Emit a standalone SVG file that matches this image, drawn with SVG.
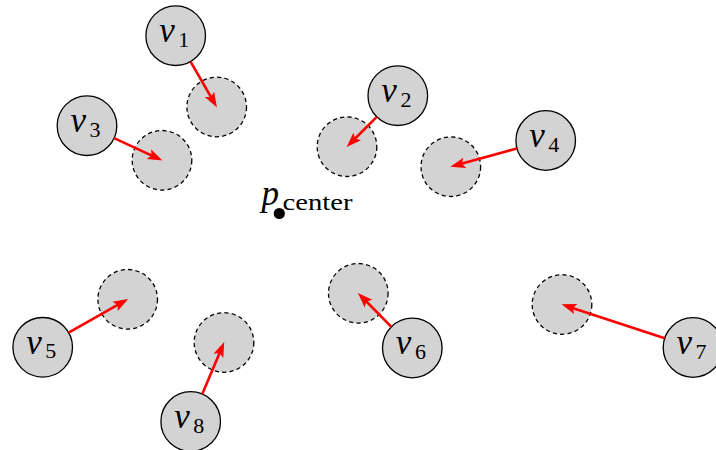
<svg xmlns="http://www.w3.org/2000/svg" width="716" height="450" viewBox="0 0 716 450">
  <style>
    .node { fill: #d3d3d3; stroke: #000; stroke-width: 1.3; }
    .ghost { fill: #d3d3d3; stroke: #000; stroke-width: 1.3; stroke-dasharray: 4.2 3.2; }
    text { font-family: "Liberation Serif", "Times New Roman", serif; fill: #000; }
    .lbl { font-size: 35px; }
    .v { font-style: italic; }
    .s { font-size: 22px; font-style: normal; }
    .edge { stroke: #ff0000; stroke-width: 2.6; fill: none; marker-end: url(#arrow); }
  </style>
  <defs>
    <marker id="arrow" markerUnits="userSpaceOnUse" markerWidth="15" markerHeight="12" viewBox="0 0 14 11" refX="7" refY="5.5" orient="auto">
      <path d="M0,0.5 L14,5.5 L0,10.5 L2.8,5.5 Z" fill="#ff0000"/>
    </marker>
  </defs>

  <!-- displaced positions (dashed) -->
  <g id="targets">
    <circle id="t1" class="ghost" cx="216.7" cy="107" r="29.8"/>
    <circle id="t2" class="ghost" cx="347" cy="146.7" r="29.8"/>
    <circle id="t3" class="ghost" cx="162" cy="160.3" r="29.8"/>
    <circle id="t4" class="ghost" cx="450.8" cy="166.7" r="29.8"/>
    <circle id="t5" class="ghost" cx="127.7" cy="299.3" r="29.8"/>
    <circle id="t6" class="ghost" cx="358.3" cy="293.3" r="29.8"/>
    <circle id="t7" class="ghost" cx="562" cy="304.5" r="29.8"/>
    <circle id="t8" class="ghost" cx="224" cy="342.5" r="29.8"/>
  </g>

  <!-- centre point -->
  <g id="pcenter">
    <circle cx="279.3" cy="213.5" r="5.6" fill="#000"/>
    <text class="lbl v" x="261.5" y="205">p</text>
    <text x="282.5" y="209.5" font-size="24" textLength="70" lengthAdjust="spacingAndGlyphs">center</text>
  </g>

  <!-- vertices -->
  <g id="v1">
    <circle class="node" cx="175.7" cy="35.7" r="29.8"/>
    <text class="lbl" x="159.2" y="41.9"><tspan class="v">v</tspan><tspan class="s" x="178.3" y="46.7">1</tspan></text>
  </g>
  <g id="v2">
    <circle class="node" cx="397.8" cy="95.7" r="29.8"/>
    <text class="lbl" x="381.3" y="101.9"><tspan class="v">v</tspan><tspan class="s" x="400.4" y="106.7">2</tspan></text>
  </g>
  <g id="v3">
    <circle class="node" cx="87" cy="125.7" r="29.8"/>
    <text class="lbl" x="70.5" y="131.9"><tspan class="v">v</tspan><tspan class="s" x="89.6" y="136.7">3</tspan></text>
  </g>
  <g id="v4">
    <circle class="node" cx="545.7" cy="140.5" r="29.8"/>
    <text class="lbl" x="529.2" y="146.7"><tspan class="v">v</tspan><tspan class="s" x="548.3" y="151.5">4</tspan></text>
  </g>
  <g id="v5">
    <circle class="node" cx="42.7" cy="347.3" r="29.8"/>
    <text class="lbl" x="26.2" y="353.5"><tspan class="v">v</tspan><tspan class="s" x="45.3" y="358.3">5</tspan></text>
  </g>
  <g id="v6">
    <circle class="node" cx="412.3" cy="348" r="29.8"/>
    <text class="lbl" x="395.8" y="354.2"><tspan class="v">v</tspan><tspan class="s" x="414.9" y="359">6</tspan></text>
  </g>
  <g id="v7">
    <circle class="node" cx="693" cy="347.5" r="29.8"/>
    <text class="lbl" x="676.5" y="353.7"><tspan class="v">v</tspan><tspan class="s" x="695.6" y="358.5">7</tspan></text>
  </g>
  <g id="v8">
    <circle class="node" cx="190.7" cy="421.5" r="29.8"/>
    <text class="lbl" x="174.2" y="427.7"><tspan class="v">v</tspan><tspan class="s" x="193.3" y="432.5">8</tspan></text>
  </g>

  <!-- displacement arrows -->
  <g id="connectors">
    <line class="edge" x1="190.56" y1="61.53" x2="213.21" y2="100.93"/>
    <line class="edge" x1="376.77" y1="116.81" x2="351.94" y2="141.74"/>
    <line class="edge" x1="114.06" y1="138.18" x2="155.64" y2="157.37"/>
    <line class="edge" x1="516.97" y1="148.43" x2="457.55" y2="164.84"/>
    <line class="edge" x1="68.65" y1="332.65" x2="121.61" y2="302.74"/>
    <line class="edge" x1="391.36" y1="326.79" x2="363.22" y2="298.28"/>
    <line class="edge" x1="664.69" y1="338.21" x2="568.65" y2="306.68"/>
    <line class="edge" x1="202.27" y1="394.04" x2="221.28" y2="348.95"/>
  </g>
</svg>
